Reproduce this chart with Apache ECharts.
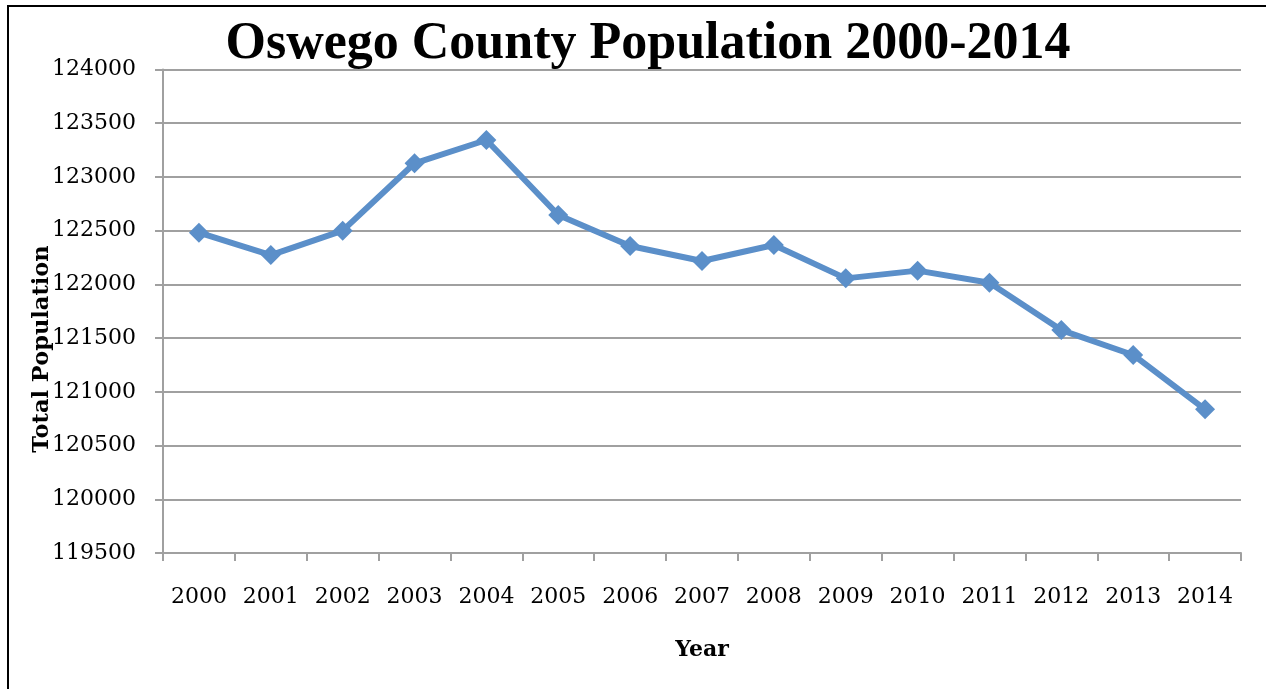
<!DOCTYPE html>
<html>
<head>
<meta charset="utf-8">
<script src="https://cdn.jsdelivr.net/npm/echarts@6/dist/echarts.min.js"></script>
<style>
html,body{margin:0;padding:0;background:#fff;}
#chart{width:1266px;height:689px;}
</style>
</head>
<body>
<div id="chart"></div>
<script>
var titleText = 'Oswego County Population 2000-2014';
var xAxisTitle = 'Year';
var yAxisTitle = 'Total Population';
var years = ['2000','2001','2002','2003','2004','2005','2006','2007','2008','2009','2010','2011','2012','2013','2014'];
var population = [122481, 122273, 122500, 123127, 123344, 122646, 122357, 122218, 122367, 122056, 122128, 122016, 121575, 121343, 120837];
var yMin = 119500, yMax = 124000, yStep = 500;

var serif = '"DejaVu Serif", "Liberation Serif", serif';
var titleSerif = '"Liberation Serif", "DejaVu Serif", serif';
var chart = echarts.init(document.getElementById('chart'), null, {renderer: 'canvas'});
chart.setOption({
  animation: false,
  backgroundColor: '#ffffff',
  title: {
    text: titleText,
    left: 648, top: 14, textAlign: 'center',
    textStyle: {fontFamily: titleSerif, fontWeight: 'bold', fontSize: 52, color: '#000'}
  },
  grid: {left: 163, right: 25, top: 69.5, bottom: 136, containLabel: false},
  graphic: [
    {type: 'polyline', shape: {points: [[8, 700], [8, 6], [1270, 6]]}, style: {stroke: '#000', lineWidth: 2, fill: null}, silent: true},
    {type: 'text', x: 42, y: 349, rotation: Math.PI/2, style: {text: yAxisTitle, font: 'bold 22.5px ' + serif, fill: '#000', align: 'center', verticalAlign: 'middle'}}
  ],
  xAxis: {
    type: 'category',
    data: years,
    boundaryGap: true,
    name: xAxisTitle,
    nameLocation: 'middle',
    nameGap: 86,
    nameTextStyle: {fontFamily: serif, fontWeight: 'bold', fontSize: 22, color: '#000'},
    axisLine: {show: true, lineStyle: {color: '#a0a0a0', width: 2}},
    axisTick: {show: true, inside: false, length: 8, alignWithLabel: false, lineStyle: {color: '#a0a0a0', width: 2}},
    axisLabel: {fontFamily: serif, fontSize: 22, color: '#000', margin: 33, interval: 0},
    splitLine: {show: false}
  },
  yAxis: {
    type: 'value',
    min: yMin, max: yMax, interval: yStep,
    axisLine: {show: true, lineStyle: {color: '#a0a0a0', width: 2}},
    axisTick: {show: true, inside: false, length: 8, lineStyle: {color: '#a0a0a0', width: 2}},
    axisLabel: {fontFamily: serif, fontSize: 22, color: '#000', margin: 27, formatter: function (v) { return String(v); }},
    splitLine: {show: true, lineStyle: {color: '#a0a0a0', width: 2}}
  },
  series: [{
    type: 'line',
    data: population,
    symbol: 'diamond',
    symbolSize: 20,
    lineStyle: {color: '#5b8fc9', width: 6},
    itemStyle: {color: '#5b8fc9'},
    z: 5
  }]
});
chart.setOption({title: {left: 643}});
</script>
</body>
</html>
